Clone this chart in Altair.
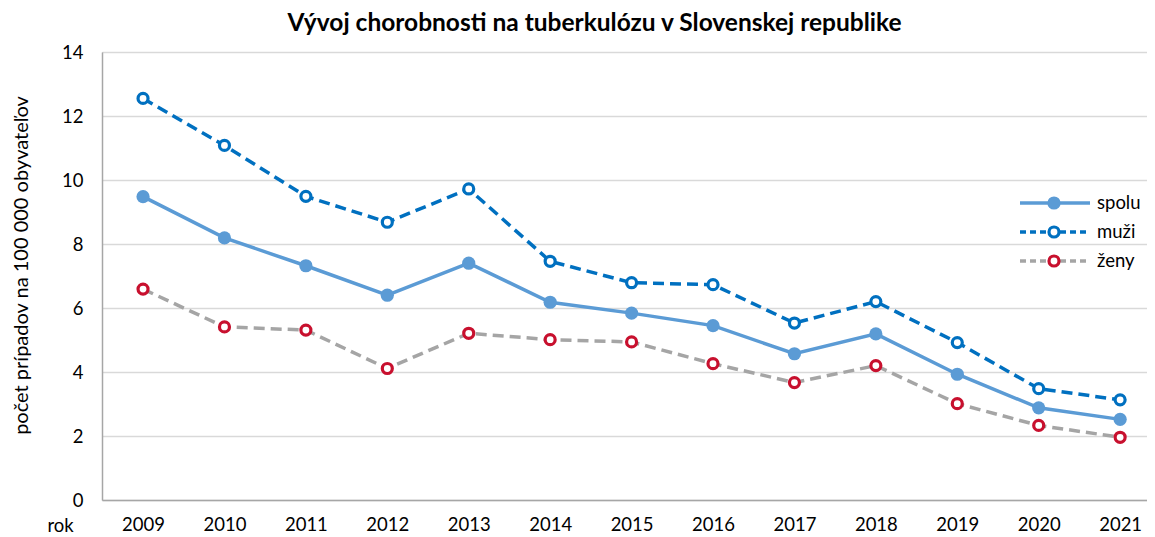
import altair as alt
import pandas as pd

years = [2009, 2010, 2011, 2012, 2013, 2014, 2015, 2016, 2017, 2018, 2019, 2020, 2021]
spolu = [9.48, 8.19, 7.32, 6.40, 7.40, 6.18, 5.84, 5.45, 4.57, 5.19, 3.93, 2.88, 2.52]
muzi = [12.55, 11.08, 9.49, 8.68, 9.72, 7.46, 6.79, 6.73, 5.53, 6.20, 4.92, 3.48, 3.13]
zeny = [6.59, 5.41, 5.31, 4.11, 5.21, 5.01, 4.94, 4.26, 3.67, 4.20, 3.01, 2.33, 1.96]

series_names = ["spolu", "muži", "ženy"]
y_ticks = [0, 2, 4, 6, 8, 10, 12, 14]

FONT = "Lato"
FS = 18.5
C_SPOLU = "#5B9BD5"
C_MUZI = "#0070C0"
C_ZENY_LINE = "#A5A5A5"
C_ZENY_MARK = "#C8102E"

df = pd.DataFrame({"rok": years, "spolu": spolu, "muzi": muzi, "zeny": zeny})

W, H = 1045, 448

xscale = alt.Scale(domain=[2008.496, 2021.33], nice=False, zero=False)
yscale = alt.Scale(domain=[0, 14], nice=False)

xenc = alt.X(
    "rok:Q",
    scale=xscale,
    axis=alt.Axis(
        values=years, format="d", grid=False, ticks=False, domainColor="#A6A6A6",
        domainWidth=1.5, labelFont=FONT, labelFontSize=FS, labelColor="#000000",
        labelPadding=15, title="rok", titleFont=FONT, titleFontSize=FS,
        titleFontWeight="normal", titleColor="#000000", titleX=-42, titleY=25,
        titleAlign="center", titleBaseline="middle", titleAngle=0,
    ),
)

def yenc(field):
    return alt.Y(
        f"{field}:Q",
        scale=yscale,
        axis=alt.Axis(
            values=y_ticks, grid=True, gridColor="#D9D9D9", gridWidth=1.3, ticks=False,
            domainColor="#A6A6A6", domainWidth=1.5, labelFont=FONT, labelFontSize=FS,
            labelColor="#000000", labelPadding=19,
            title="počet prípadov na 100 000 obyvateľov", titleFont=FONT,
            titleFontSize=20, titleFontWeight="normal", titleColor="#000000",
            titleX=-71, titleY=213,
        ),
    )

base = alt.Chart(df)

line_spolu = base.mark_line(color=C_SPOLU, strokeWidth=3.5).encode(x=xenc, y=yenc("spolu"))
line_muzi = base.mark_line(color=C_MUZI, strokeWidth=3.5, strokeDash=[11, 6]).encode(x=xenc, y=yenc("muzi"))
line_zeny = base.mark_line(color=C_ZENY_LINE, strokeWidth=3.5, strokeDash=[11, 6]).encode(x=xenc, y=yenc("zeny"))

pt_spolu = base.mark_point(shape="circle", filled=True, color=C_SPOLU, size=175, opacity=1).encode(x=xenc, y=yenc("spolu"))
pt_muzi = base.mark_point(shape="circle", fill="white", stroke=C_MUZI, strokeWidth=3.2, size=100, opacity=1, fillOpacity=1).encode(x=xenc, y=yenc("muzi"))
pt_zeny = base.mark_point(shape="circle", fill="white", stroke=C_ZENY_MARK, strokeWidth=3.2, size=100, opacity=1, fillOpacity=1).encode(x=xenc, y=yenc("zeny"))

# manual legend
leg_rows = [151, 180, 209]
leg_layers = []
styles = [
    dict(line=C_SPOLU, dash=None, mark="filled"),
    dict(line=C_MUZI, dash=[6, 4], mark=C_MUZI),
    dict(line=C_ZENY_LINE, dash=[6, 4], mark=C_ZENY_MARK),
]
ldf = pd.DataFrame({"name": series_names})
for i, (name, st) in enumerate(zip(series_names, styles)):
    one = alt.Chart(ldf[ldf["name"] == name])
    rule_kw = dict(color=st["line"], strokeWidth=3.5)
    if st["dash"]:
        rule_kw["strokeDash"] = st["dash"]
    leg_layers.append(
        one.mark_rule(**rule_kw).encode(
            x=alt.value(918), x2=alt.value(988), y=alt.value(leg_rows[i])
        )
    )
    if st["mark"] == "filled":
        leg_layers.append(
            one.mark_point(shape="circle", filled=True, color=C_SPOLU, size=175, opacity=1).encode(
                x=alt.value(952), y=alt.value(leg_rows[i])
            )
        )
    else:
        leg_layers.append(
            one.mark_point(shape="circle", fill="white", stroke=st["mark"], strokeWidth=3.2, size=100, opacity=1, fillOpacity=1).encode(
                x=alt.value(952), y=alt.value(leg_rows[i])
            )
        )
    leg_layers.append(
        one.mark_text(align="left", baseline="middle", font=FONT, fontSize=FS, color="#000000").encode(
            x=alt.value(995), y=alt.value(leg_rows[i]), text="name:N"
        )
    )

chart = alt.layer(
    line_zeny, line_muzi, line_spolu, pt_zeny, pt_muzi, pt_spolu, *leg_layers
).properties(
    width=W,
    height=H,
    autosize=alt.AutoSizeParams(type="none"),
    padding={"left": 94, "top": 44, "right": 0, "bottom": 37},
    title=alt.TitleParams(
        "Vývoj chorobnosti na tuberkulózu v Slovenskej republike",
        font=FONT, fontSize=24.5, fontWeight="bold", color="#000000",
        anchor="middle", dx=-30, offset=7,
    ),
).configure_view(strokeWidth=0).configure(background="white")

chart.save("out.html", embed_options={"renderer": "svg", "actions": False})
